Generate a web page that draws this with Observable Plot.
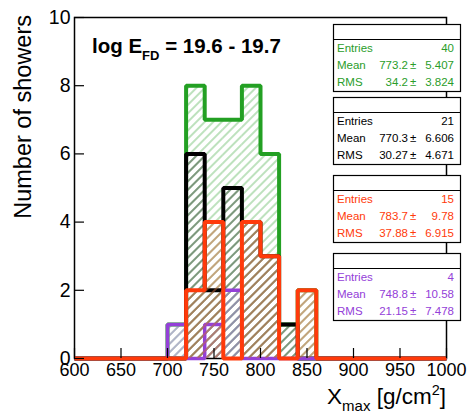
<!DOCTYPE html>
<html><head><meta charset="utf-8">
<script src="https://cdn.jsdelivr.net/npm/d3@7"></script>
<script src="https://cdn.jsdelivr.net/npm/@observablehq/plot@0.6"></script>
<style>
body{margin:0;background:#fff}
#chart{position:relative;width:473px;height:413px}
</style>
</head><body><div id="chart"></div>
<script>
// ---- data ----
const binStarts = [700, 720, 740, 760, 780, 800, 820, 840];
const binWidth = 20;
const totalCounts   = [1, 8, 7, 7, 8, 6, 1, 2];   // green, 40 entries
const sampleACounts = [0, 6, 2, 5, 4, 3, 1, 0];   // black, 21 entries
const sampleBCounts = [0, 2, 4, 0, 4, 3, 0, 2];   // red, 15 entries
const sampleCCounts = [1, 0, 1, 2, 0, 0, 0, 0];   // purple, 4 entries
const xDomain = [600, 1000];
const yDomain = [0, 10];
const xTicks = [600, 650, 700, 750, 800, 850, 900, 950, 1000];
const yTicks = [0, 2, 4, 6, 8, 10];
const statEntries = ["40", "21", "15", "4"];
const statMean    = ["773.2", "770.3", "783.7", "748.8"];
const statMeanErr = ["5.407", "6.606", "9.78", "10.58"];
const statRms     = ["34.2", "30.27", "37.88", "21.15"];
const statRmsErr  = ["3.824", "4.671", "6.915", "7.478"];
const titleMain = "log E";
const titleSub = "FD";
const titleRange = " = 19.6 - 19.7";
const yLabel = "Number of showers";

// ---- styles ----
const series = [
  {counts: totalCounts,   line: "#23a023", hatch: "#7cc47c", id: "hg", w: 4},
  {counts: sampleACounts, line: "#000000", hatch: "#3d4f3d", id: "hk", w: 4},
  {counts: sampleCCounts, line: "#9440d8", hatch: "#a488d4", id: "hp", w: 3.5},
  {counts: sampleBCounts, line: "#ff3a0a", hatch: "#c8683c", id: "hr", w: 4}
];
const boxColors = ["#2a9d2a", "#000000", "#ff3a0a", "#9440d8"];

function bins(counts) {
  return binStarts.map((b, i) => ({x1: b, x2: b + binWidth, y: counts[i]}));
}
function steps(counts) {
  const pts = [{x: xDomain[0], y: 0}, {x: binStarts[0], y: 0}];
  binStarts.forEach((b, i) => {
    pts.push({x: b, y: counts[i]}, {x: b + binWidth, y: counts[i]});
  });
  pts.push({x: binStarts[binStarts.length - 1] + binWidth, y: 0}, {x: xDomain[1], y: 0});
  return pts;
}

const marks = [Plot.frame({stroke: "black", strokeWidth: 1.5})];
for (const s of series) {
  marks.push(Plot.rectY(bins(s.counts), {x1: "x1", x2: "x2", y: "y", fill: `url(#${s.id})`}));
  marks.push(Plot.line(steps(s.counts), {x: "x", y: "y", stroke: s.line, strokeWidth: s.w,
    strokeLinejoin: "miter", strokeLinecap: "butt"}));
}
marks.push(
  Plot.tickX(xTicks, {x: d => d, stroke: "black", strokeWidth: 1.2, insetTop: 331}),
  Plot.tickY(yTicks, {y: d => d, stroke: "black", strokeWidth: 1.2, insetRight: 362}),
  Plot.axisX({ticks: xTicks, tickSize: 0, tickPadding: 5, fontSize: 18, label: null, tickFormat: d => String(d)}),
  Plot.axisY({ticks: yTicks, tickSize: 0, tickPadding: 4, fontSize: 19.5, label: null, tickFormat: d => String(d)})
);

const svgEl = Plot.plot({
  width: 473, height: 413,
  marginLeft: 74, marginRight: 27, marginTop: 17, marginBottom: 55,
  x: {domain: xDomain},
  y: {domain: yDomain},
  style: {fontFamily: "'Liberation Sans', Arial, Helvetica, sans-serif", color: "black", background: "white"},
  marks
});
document.getElementById("chart").appendChild(svgEl);

const svg = d3.select(svgEl);
const defs = svg.insert("defs", ":first-child");
for (const s of series) {
  const p = defs.append("pattern").attr("id", s.id).attr("patternUnits", "userSpaceOnUse")
    .attr("width", 6).attr("height", 6).attr("patternTransform", "rotate(45)");
  p.append("line").attr("x1", 3).attr("y1", 0).attr("x2", 3).attr("y2", 6)
    .attr("stroke", s.hatch).attr("stroke-width", 1);
}

const font = "'Liberation Sans', Arial, Helvetica, sans-serif";
const layer = svg.append("g").attr("text-anchor", "start").attr("font-family", font);
// title
const t = layer.append("text").attr("x", 92).attr("y", 53)
  .attr("font-weight", "bold").attr("font-size", 20.5).attr("fill", "black");
t.append("tspan").text(titleMain);
t.append("tspan").attr("font-size", 13).attr("dy", 7).text(titleSub);
t.append("tspan").attr("dy", -7).text(titleRange);

// y label
layer.append("text").attr("transform", "translate(31,15) rotate(-90)").attr("text-anchor", "end")
  .attr("font-size", 23.5).attr("fill", "black").text(yLabel);

// x label
const xl = layer.append("text").attr("x", 446).attr("y", 404).attr("text-anchor", "end")
  .attr("font-size", 22.5).attr("fill", "black");
xl.append("tspan").text("X");
xl.append("tspan").attr("font-size", 15).attr("dy", 7).text("max");
xl.append("tspan").attr("dy", -7).text(" [g/cm");
xl.append("tspan").attr("font-size", 14.5).attr("dy", -9).text("2");
xl.append("tspan").attr("dy", 9).text("]");

// stat boxes
const boxTops = [24, 97, 175, 253];
boxTops.forEach((top, i) => {
  const g = layer.append("g").attr("font-size", 11.5).attr("fill", boxColors[i]);
  g.append("rect").attr("x", 333.5).attr("y", top + 0.5).attr("width", 127).attr("height", 67)
    .attr("fill", "white").attr("stroke", "black").attr("stroke-width", 1.2);
  g.append("line").attr("x1", 333.5).attr("x2", 460.5).attr("y1", top + 15.5).attr("y2", top + 15.5)
    .attr("stroke", "black").attr("stroke-width", 1.2);
  const rows = [["Entries", null, statEntries[i]], ["Mean", statMean[i], statMeanErr[i]], ["RMS", statRms[i], statRmsErr[i]]];
  rows.forEach((r, j) => {
    const y = top + 28 + 17 * j;
    g.append("text").attr("x", 337).attr("y", y).text(r[0]);
    if (r[1] !== null) {
      g.append("text").attr("x", 408).attr("y", y).attr("text-anchor", "end").text(r[1]);
      g.append("text").attr("x", 410).attr("y", y).text("\u00b1");
    }
    g.append("text").attr("x", 454).attr("y", y).attr("text-anchor", "end").text(r[2]);
  });
});
</script>
</body></html>
